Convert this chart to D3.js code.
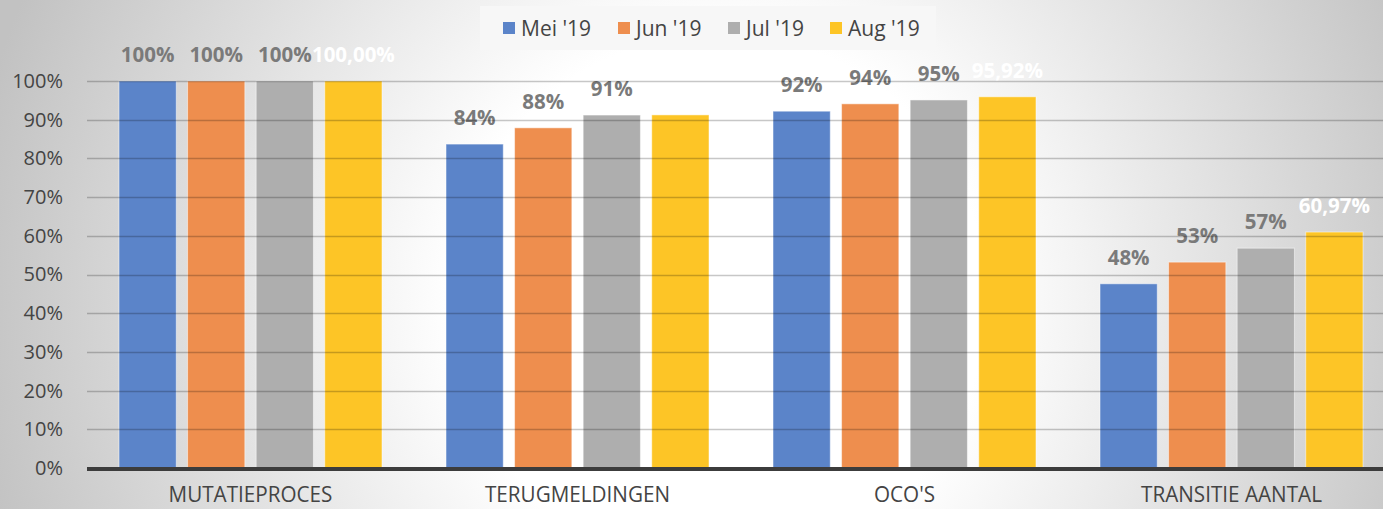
<!DOCTYPE html>
<html><head><meta charset="utf-8">
<script src="https://cdn.jsdelivr.net/npm/d3@7"></script>
<style>html,body{margin:0;padding:0;overflow:hidden;}</style>
</head><body>
<script>
const categories = ["MUTATIEPROCES", "TERUGMELDINGEN", "OCO'S", "TRANSITIE AANTAL"];
const seriesNames = ["Mei '19", "Jun '19", "Jul '19", "Aug '19"];
const mei = [100, 83.7, 92.2, 47.6];
const jun = [100, 87.9, 94.1, 53.2];
const jul = [100, 91.2, 95.1, 56.8];
const aug = [100, 91.24, 95.92, 60.97];
const meiLabels = ["100%", "84%", "92%", "48%"];
const junLabels = ["100%", "88%", "94%", "53%"];
const julLabels = ["100%", "91%", "95%", "57%"];
const augLabels = ["100,00%", "91,24%", "95,92%", "60,97%"];
const yTicks = [0, 10, 20, 30, 40, 50, 60, 70, 80, 90, 100];
const colors = ["#5b84c9", "#ee8e4e", "#aeaeae", "#fdc526"];
const labelColors = ["#7a7a7a", "#7a7a7a", "#7a7a7a", "#ffffff"];

const series = [mei, jun, jul, aug];
const labels = [meiLabels, junLabels, julLabels, augLabels];

const W = 1383, H = 509;
const FONT = "'Open Sans', sans-serif";
const svg = d3.select("body").append("svg").attr("width", W).attr("height", H);
const defs = svg.append("defs");
const rg = defs.append("radialGradient").attr("id", "bg")
  .attr("gradientUnits", "userSpaceOnUse")
  .attr("cx", 720).attr("cy", 300).attr("r", 760);
rg.append("stop").attr("offset", "0%").attr("stop-color", "#ffffff");
rg.append("stop").attr("offset", "35%").attr("stop-color", "#ffffff");
rg.append("stop").attr("offset", "100%").attr("stop-color", "#c2c2c2");
svg.append("rect").attr("width", W).attr("height", H).attr("fill", "url(#bg)");

const x0 = 87, plotRight = 1395;
const yScale = d3.scaleLinear().domain([0, 100]).range([468, 81]);
const xBand = d3.scaleBand().domain(categories).range([x0, plotRight]).paddingInner(0).paddingOuter(0);
const xInner = d3.scaleBand().domain(d3.range(4)).range([32, xBand.bandwidth() - 32]).paddingInner(0.165).paddingOuter(0);

// y axis labels
const yAxis = d3.axisLeft(yScale).tickValues(yTicks).tickFormat(d => d + "%").tickSize(0).tickPadding(24);
const gAxis = svg.append("g").attr("transform", `translate(${x0},0)`).call(yAxis);
gAxis.select(".domain").remove();
gAxis.selectAll("text").attr("font-family", FONT).attr("font-size", 20).attr("fill", "#444");

// bars
const groups = svg.append("g").selectAll("g").data(categories).join("g")
  .attr("transform", d => `translate(${xBand(d)},0)`);
groups.each(function(cat, ci) {
  const g = d3.select(this);
  series.forEach((s, si) => {
    g.append("rect")
      .attr("x", xInner(si)).attr("width", xInner.bandwidth())
      .attr("y", yScale(s[ci])).attr("height", yScale(0) - yScale(s[ci]))
      .attr("fill", colors[si]).attr("stroke", "rgba(255,255,255,0.5)").attr("stroke-width", 1);
  });
});

// gridlines (drawn over bars, semi-transparent)
svg.append("g").selectAll("line").data(yTicks.filter(d => d > 0)).join("line")
  .attr("x1", x0).attr("x2", W).attr("y1", d => Math.round(yScale(d)) + 0.5).attr("y2", d => Math.round(yScale(d)) + 0.5)
  .attr("stroke", "rgba(0,0,0,0.22)").attr("stroke-width", 1.3);

// value labels
groups.each(function(cat, ci) {
  const g = d3.select(this);
  series.forEach((s, si) => {
    g.append("text")
      .attr("x", xInner(si) + xInner.bandwidth() / 2)
      .attr("y", yScale(s[ci]) - 19)
      .attr("text-anchor", "middle")
      .attr("font-family", FONT).attr("font-weight", "bold").attr("font-size", 20.5)
      .attr("fill", labelColors[si])
      .text(labels[si][ci]);
  });
});

// baseline axis
svg.append("line").attr("x1", x0).attr("x2", W).attr("y1", yScale(0) + 1).attr("y2", yScale(0) + 1)
  .attr("stroke", "#3c3c3c").attr("stroke-width", 4);

// x labels
const xAxis = d3.axisBottom(xBand).tickSize(0).tickPadding(18);
const gx = svg.append("g").attr("transform", `translate(0,${yScale(0) + 3})`).call(xAxis);
gx.select(".domain").remove();
gx.selectAll("text").attr("font-family", FONT).attr("font-size", 22).attr("fill", "#444")
  .attr("dy", "0.6em").attr("transform", "scale(0.94,1)");

// legend
const lg = svg.append("g");
lg.append("rect").attr("x", 480).attr("y", 6).attr("width", 456).attr("height", 44).attr("fill", "#f7f7f7");
const legendX = [503, 618, 728, 830];
seriesNames.forEach((n, i) => {
  lg.append("rect").attr("x", legendX[i]).attr("y", 22).attr("width", 12).attr("height", 12).attr("fill", colors[i]);
  lg.append("text").attr("x", legendX[i] + 18).attr("y", 36)
    .attr("font-family", FONT).attr("font-size", 21).attr("fill", "#444").text(n);
});
</script>
</body></html>
